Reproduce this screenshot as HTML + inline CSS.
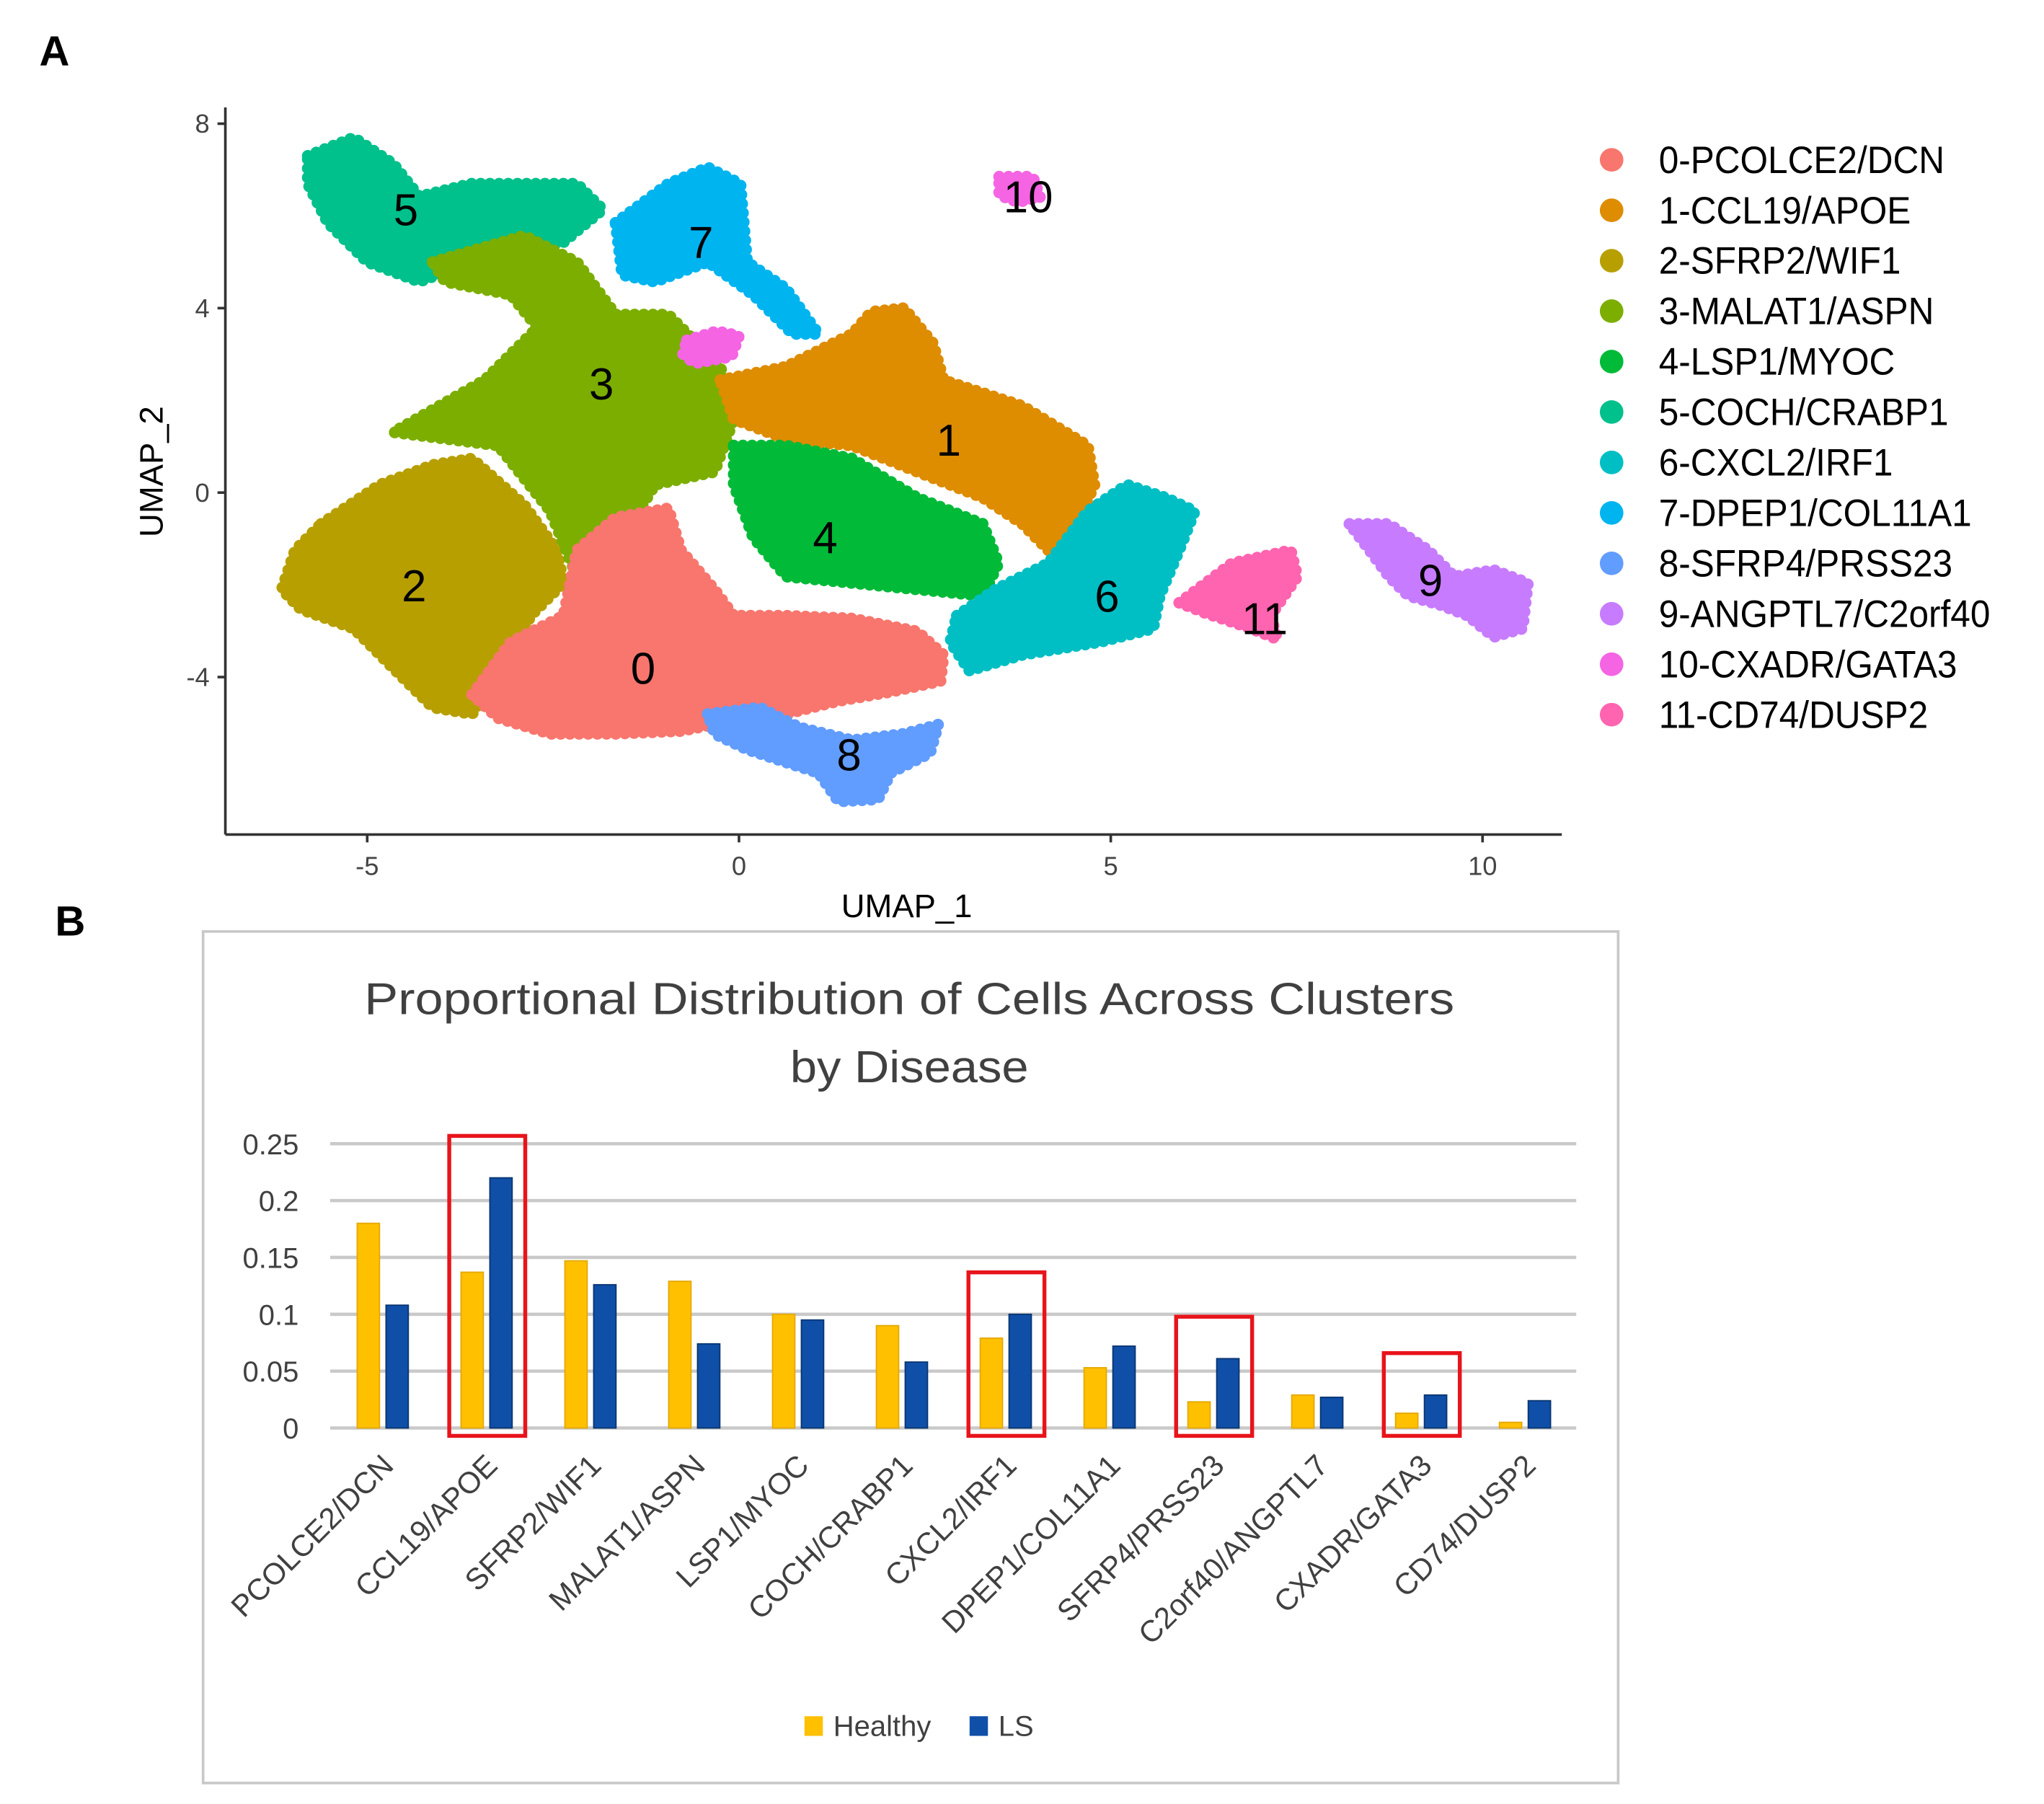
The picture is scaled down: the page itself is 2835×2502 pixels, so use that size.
<!DOCTYPE html>
<html><head><meta charset="utf-8"><style>
html,body{margin:0;padding:0;background:#fff;}
svg{display:block;font-family:"Liberation Sans",sans-serif;}
</style></head><body>
<svg id="fig" xmlns="http://www.w3.org/2000/svg" width="2835" height="2502" viewBox="0 0 1560 1377" preserveAspectRatio="none">
<rect width="1560" height="1377" fill="#fff"/>
<text x="30" y="50" font-size="32" font-weight="bold">A</text>
<text x="42" y="714" font-size="32" font-weight="bold">B</text>
<g id="umap"></g>
<g id="bar"></g>
</svg>
<script>
const NS="http://www.w3.org/2000/svg";
function mk(tag,attrs,parent,txt){const e=document.createElementNS(NS,tag);for(const k in attrs)e.setAttribute(k,attrs[k]);if(txt!==undefined)e.textContent=txt;parent.appendChild(e);return e;}

// ===== Panel A data =====
const clusterNames=["0-PCOLCE2/DCN","1-CCL19/APOE","2-SFRP2/WIF1","3-MALAT1/ASPN","4-LSP1/MYOC","5-COCH/CRABP1","6-CXCL2/IRF1","7-DPEP1/COL11A1","8-SFRP4/PRSS23","9-ANGPTL7/C2orf40","10-CXADR/GATA3","11-CD74/DUSP2"];
const clusterColors=["#F8766D","#DE8C00","#B79F00","#7CAE00","#00BA38","#00C08B","#00BFC4","#00B4F0","#619CFF","#C77CFF","#F564E3","#FF64B0"];
const xTicks=[-5,0,5,10];
const yTicks=[8,4,0,-4];
const clusterOutlines={
 2:[[-5.62,-0.68],[-4.83,0.17],[-4.12,0.6],[-3.59,0.74],[-2.89,-0.26],[-2.45,-1.25],[-2.36,-1.96],[-2.8,-2.67],[-3.15,-3.81],[-3.59,-4.8],[-4.12,-4.66],[-4.65,-3.81],[-5.18,-2.95],[-5.89,-2.53],[-6.15,-2.1],[-5.97,-1.25]],
 5:[[-5.8,7.3],[-5.18,7.7],[-4.65,7.13],[-4.3,6.42],[-3.6,6.7],[-2.18,6.7],[-1.83,6.14],[-2.36,5.43],[-3.6,5.0],[-4.3,4.57],[-5.0,5.0],[-5.53,5.85],[-5.8,6.7]],
 3:[[-4.12,5.0],[-2.89,5.57],[-2.18,5.0],[-1.66,3.86],[-0.95,3.86],[-0.25,2.73],[-0.07,1.59],[-0.33,0.45],[-1.13,0.17],[-1.66,-1.25],[-2.18,-1.82],[-2.54,-0.4],[-3.24,1.02],[-4.65,1.31],[-3.42,2.44],[-2.71,3.58],[-3.07,4.29],[-3.95,4.57]],
 7:[[-1.66,5.85],[-0.95,6.7],[-0.42,7.05],[0.02,6.7],[0.11,5.0],[0.63,4.43],[1.07,3.44],[0.72,3.44],[0.19,4.29],[-0.42,5.0],[-1.13,4.57],[-1.57,4.72]],
 1:[[-0.25,2.44],[0.63,2.73],[1.52,3.44],[1.78,3.92],[2.22,4.0],[2.61,3.24],[2.75,2.44],[3.81,1.88],[4.69,1.02],[4.78,0.17],[4.51,-0.82],[4.16,-1.25],[3.81,-0.68],[3.28,-0.11],[2.4,0.45],[1.52,1.02],[0.63,1.16],[-0.07,1.59]],
 4:[[-0.07,1.02],[0.63,1.02],[1.52,0.74],[2.4,-0.11],[3.28,-0.68],[3.49,-1.53],[3.28,-2.24],[2.4,-2.1],[1.52,-1.96],[0.63,-1.82],[0.19,-0.97],[-0.07,0.17]],
 6:[[2.93,-2.67],[3.45,-2.1],[4.16,-1.53],[4.69,-0.4],[5.22,0.17],[5.74,-0.11],[6.13,-0.4],[5.92,-1.25],[5.66,-2.24],[5.57,-2.95],[4.86,-3.24],[3.81,-3.52],[3.1,-3.86],[2.84,-3.24]],
 0:[[-3.59,-4.38],[-3.07,-3.24],[-2.36,-2.67],[-2.18,-1.25],[-1.66,-0.54],[-0.95,-0.34],[-0.78,-1.25],[-0.33,-2.1],[-0.07,-2.67],[0.63,-2.67],[1.52,-2.73],[2.4,-3.01],[2.75,-3.52],[2.71,-4.09],[2.04,-4.32],[1.34,-4.52],[0.63,-4.8],[-0.07,-4.94],[-0.78,-5.17],[-1.66,-5.23],[-2.54,-5.23],[-3.24,-4.89]],
 8:[[-0.42,-4.8],[0.28,-4.66],[0.81,-5.09],[1.52,-5.37],[2.22,-5.23],[2.68,-5.03],[2.57,-5.65],[2.04,-6.08],[1.87,-6.65],[1.34,-6.7],[1.07,-6.08],[0.63,-5.85],[0.11,-5.57],[-0.33,-5.23]],
 11:[[5.92,-2.39],[6.63,-1.53],[7.42,-1.25],[7.51,-1.82],[7.15,-2.67],[7.24,-3.18],[6.89,-2.95],[6.27,-2.61]],
 9:[[8.21,-0.68],[8.74,-0.68],[9.27,-1.25],[9.62,-1.82],[10.15,-1.68],[10.61,-1.96],[10.54,-2.95],[10.15,-3.13],[9.8,-2.67],[9.44,-2.44],[9.0,-2.24],[8.74,-1.82],[8.48,-1.25]],
 10:[[3.5,6.85],[3.95,6.85],[4.05,6.4],[3.75,6.3],[3.5,6.45]],
 "10b":[[-0.7,3.3],[-0.3,3.5],[0.0,3.4],[-0.1,2.95],[-0.6,2.8],[-0.75,3.0]]
};
const labelPos=[[-1.29,-3.81],[2.82,1.14],[-4.37,-2.02],[-1.85,2.36],[1.16,-0.97],[-4.48,6.14],[4.95,-2.24],[-0.51,5.43],[1.48,-5.68],[9.3,-1.9],[3.89,6.42],[7.07,-2.73]];

const ux=v=>564+v*56.75, uy=v=>376-v*35.2;
const A=document.getElementById('umap');
const order=[2,5,3,7,1,4,6,0,8,11,9,10,"10b"];
order.forEach(k=>{
  const idx=(k==="10b")?10:k;
  const pts=clusterOutlines[k].map(p=>ux(p[0]).toFixed(1)+","+uy(p[1]).toFixed(1)).join(" ");
  const p=mk('polygon',{points:pts,fill:clusterColors[idx],stroke:clusterColors[idx],'stroke-width':9,'stroke-dasharray':'0 7','stroke-linecap':'round','stroke-linejoin':'round'},A);
  
  
});
labelPos.forEach((p,i)=>{
  const t=mk('text',{x:ux(p[0]),y:uy(p[1])+12,'font-size':34,'text-anchor':'middle',fill:'#000'},A,String(i));
  
  
});
let ax=mk('line',{x1:172,y1:82,x2:172,y2:637,stroke:'#333','stroke-width':2},A);

ax=mk('line',{x1:172,y1:637,x2:1192,y2:637,stroke:'#333','stroke-width':2},A);

xTicks.forEach(v=>{
  mk('line',{x1:ux(v),y1:637,x2:ux(v),y2:643,stroke:'#333','stroke-width':2},A);
  const t=mk('text',{x:ux(v),y:668,'font-size':20,'text-anchor':'middle',fill:'#444'},A,String(v));
  
});
yTicks.forEach(v=>{
  mk('line',{x1:166,y1:uy(v),x2:172,y2:uy(v),stroke:'#333','stroke-width':2},A);
  const t=mk('text',{x:160,y:uy(v)+7,'font-size':20,'text-anchor':'end',fill:'#444'},A,String(v));
  
});
let tt=mk('text',{x:692,y:700,'font-size':25,'text-anchor':'middle'},A,'UMAP_1');

tt=mk('text',{x:0,y:0,'font-size':25,'text-anchor':'middle',transform:'translate(124,360) rotate(-90)'},A,'UMAP_2');

clusterNames.forEach((n,i)=>{
  const y=122+i*38.5;
  const g=mk('g',{},A);
  
  mk('circle',{cx:1230,cy:y,r:9,fill:clusterColors[i]},g);
  mk('text',{x:1266,y:y+10,'font-size':29,transform:'translate(1266,0) scale(0.94,1) translate(-1266,0)'},g,n);
});

// ===== Panel B data =====
const categories=["PCOLCE2/DCN","CCL19/APOE","SFRP2/WIF1","MALAT1/ASPN","LSP1/MYOC","COCH/CRABP1","CXCL2/IRF1","DPEP1/COL11A1","SFRP4/PRSS23","C2orf40/ANGPTL7","CXADR/GATA3","CD74/DUSP2"];
const healthy=[0.18,0.137,0.147,0.129,0.1,0.09,0.079,0.053,0.023,0.029,0.013,0.005];
const ls=[0.108,0.22,0.126,0.074,0.095,0.058,0.1,0.072,0.061,0.027,0.029,0.024];
const yTickLabels=["0","0.05","0.1","0.15","0.2","0.25"];
const yTickValues=[0,0.05,0.1,0.15,0.2,0.25];
const highlighted=[1,6,8,10];

const B=document.getElementById('bar');
const by=v=>1090-v*868;
const step=(1203-252)/categories.length;
const bx=i=>252+step*(i+0.5);
let fr=mk('rect',{x:155,y:711,width:1080,height:650,fill:'none',stroke:'#c8c8c8','stroke-width':2},B);

let ti=mk('text',{x:694,y:774,'font-size':34,'text-anchor':'middle',fill:'#404040',textLength:832,lengthAdjust:'spacingAndGlyphs'},B,'Proportional Distribution of Cells Across Clusters');

ti=mk('text',{x:694,y:826,'font-size':34,'text-anchor':'middle',fill:'#404040',textLength:182,lengthAdjust:'spacingAndGlyphs'},B,'by Disease');

yTickValues.forEach((v,i)=>{
  const g=mk('line',{x1:252,y1:by(v),x2:1203,y2:by(v),stroke:'#c9c9c9','stroke-width':2.5},B);
  
  const t=mk('text',{x:228,y:by(v)+8,'font-size':22,'text-anchor':'end',fill:'#404040'},B,yTickLabels[i]);
  
});
categories.forEach((c,i)=>{
  const cx=bx(i);
  const h=mk('rect',{x:cx-19,y:by(healthy[i]),width:17,height:by(0)-by(healthy[i]),fill:'#FFC000',stroke:'#E5A800','stroke-width':1},B);
  
  const l=mk('rect',{x:cx+3,y:by(ls[i]),width:17,height:by(0)-by(ls[i]),fill:'#0F4FA8',stroke:'#0A3570','stroke-width':1},B);
  
  const t=mk('text',{x:0,y:0,'font-size':23,'text-anchor':'end',fill:'#404040',transform:'translate('+(cx+10)+',1120) rotate(-45)'},B,c);
  
});
highlighted.forEach(i=>{
  const top=Math.max(healthy[i],ls[i]);
  const r=mk('rect',{x:bx(i)-28,y:by(top)-32,width:58,height:by(0)-by(top)+38,fill:'none',stroke:'#E8141B','stroke-width':3},B);
  
});
let lg=mk('g',{},B);
mk('rect',{x:614,y:1310,width:14,height:15,fill:'#FFC000'},lg);
mk('text',{x:636,y:1325,'font-size':22,fill:'#404040'},lg,'Healthy');
lg=mk('g',{},B);
mk('rect',{x:740,y:1310,width:14,height:15,fill:'#0F4FA8'},lg);
mk('text',{x:762,y:1325,'font-size':22,fill:'#404040'},lg,'LS');
</script>
</body></html>
